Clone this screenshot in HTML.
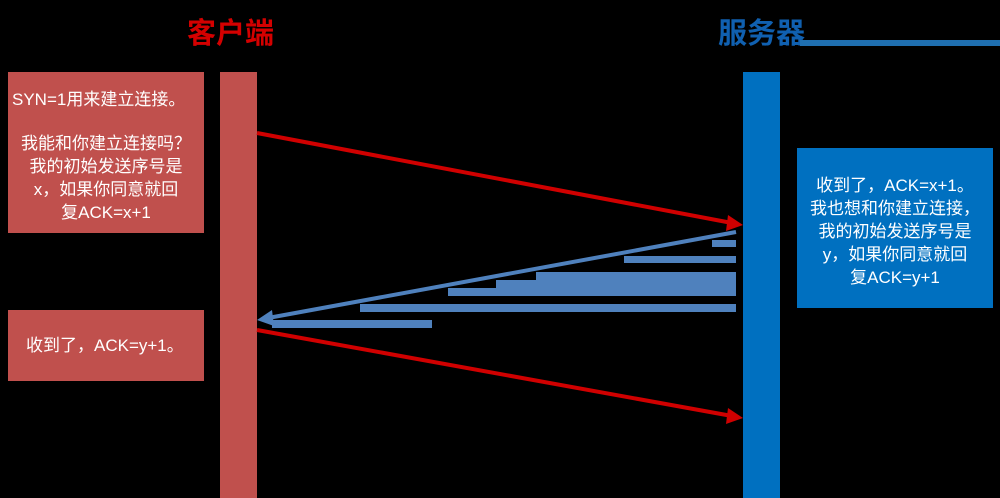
<!DOCTYPE html>
<html><head><meta charset="utf-8"><style>
body{margin:0;width:1000px;height:498px;background:#000;position:relative;overflow:hidden;font-family:"Liberation Sans","Noto Sans CJK SC",sans-serif;}
.a{position:absolute}
.box{position:absolute;color:#fff;font-size:17px;line-height:23px;box-sizing:border-box;white-space:nowrap}
</style></head><body>
<div class="a" style="left:187px;top:10px;font-size:29px;font-weight:bold;color:#d40000;">客户端</div>
<div class="a" style="left:718px;top:10px;font-size:29px;font-weight:bold;color:#1060b0;">服务器</div>
<div class="a" style="left:800px;top:40px;width:200px;height:6px;background:#1f6fb0;"></div>
<div class="box" style="left:8px;top:72px;width:196px;height:161px;background:#c0504d;padding:16px 0 0 4px;">SYN=1用来建立连接。<div style="text-align:center;margin-top:21px;margin-left:-4px">我能和你建立连接吗？<br>我的初始发送序号是<br>x，如果你同意就回<br>复ACK=x+1</div></div>
<div class="box" style="left:8px;top:310px;width:196px;height:71px;background:#c0504d;padding:24px 0 0 18px;">收到了，ACK=y+1。</div>
<div class="box" style="left:797px;top:148px;width:196px;height:160px;background:#0070c0;padding:26px 0 0 0;text-align:center;">收到了，ACK=x+1。<br>我也想和你建立连接，<br>我的初始发送序号是<br>y，如果你同意就回<br>复ACK=y+1</div>
<div class="a" style="left:220px;top:72px;width:37px;height:426px;background:#c0504d;"></div>
<div class="a" style="left:743px;top:72px;width:37px;height:426px;background:#0070c0;"></div>
<svg class="a" style="left:0;top:0" width="1000" height="498">
<g fill="#4f81bd">
<rect x="712" y="240" width="24" height="7"/><rect x="624" y="256" width="112" height="7"/>
<rect x="536" y="272" width="200" height="9"/><rect x="496" y="280" width="240" height="8"/>
<rect x="448" y="288" width="288" height="8"/><rect x="360" y="304" width="376" height="8"/>
<rect x="272" y="320" width="160" height="8"/>
</g>
<line x1="257" y1="133" x2="732" y2="223" stroke="#d00000" stroke-width="4"/>
<polygon points="743,225 728,215 726,231" fill="#d00000"/>
<line x1="736" y1="232" x2="268" y2="318" stroke="#4f81bd" stroke-width="4"/>
<polygon points="257,320 272,310 274,326" fill="#4f81bd"/>
<line x1="257" y1="330" x2="732" y2="416" stroke="#d00000" stroke-width="4"/>
<polygon points="743,418 728,408 726,424" fill="#d00000"/>
</svg>
</body></html>
